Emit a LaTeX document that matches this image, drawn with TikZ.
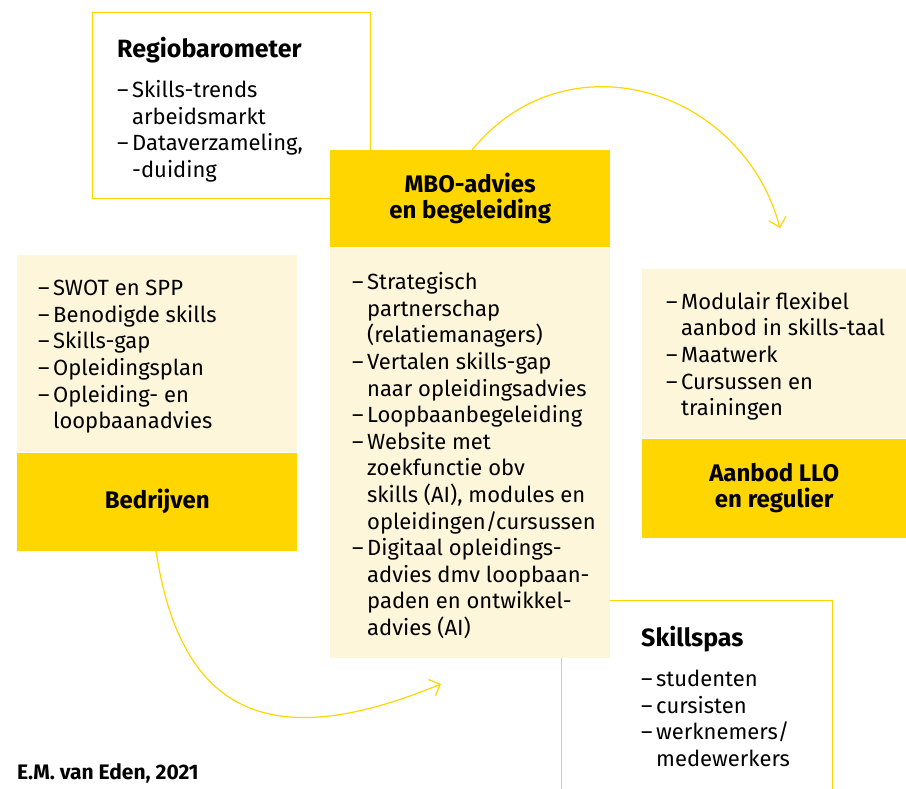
\documentclass[tikz,border=0pt]{standalone}
\usepackage{fontspec}
\setmainfont{Fira Sans}
\usepackage{xcolor}
\usepackage{tikz}
\usetikzlibrary{arrows.meta}
\usetikzlibrary{positioning}

\definecolor{geel}{RGB}{255,214,0}
\definecolor{creme}{RGB}{253,246,218}

\newcommand{\punt}{\makebox[15pt][l]{--}}
\newcommand{\verder}{\hspace*{15pt}}
\newcommand{\kopje}[1]{{\fontsize{25}{26}\selectfont\bfseries #1}}

\begin{document}
\begin{tikzpicture}[x=1pt,y=-1pt,
  >={Straight Barb[length=9pt,width=18pt]},
  vlak/.style={rectangle,inner sep=0pt,anchor=north west},
  kader/.style={vlak,draw=geel,line width=1.3pt,fill=white},
  blok/.style={vlak,fill=creme,minimum width=280pt},
  kop/.style={rectangle,inner sep=0pt,fill=geel,align=center,
    font=\fontsize{24}{26}\selectfont\bfseries},
  lijst/.style={inner sep=0pt,align=left,font=\fontsize{22}{26.6}\selectfont},
  boog/.style={->,draw=geel,line width=1.2pt}]
\useasboundingbox (0,0) rectangle (906,789);

% omkaderde blokken
\node at (92,12) (regio) [kader,minimum width=278pt,minimum height=186pt] {};
\node (regiotekst) [lijst,below right=25pt and 25pt of regio.north west]
  {\kopje{Regiobarometer}\\[13.4pt]
   \punt Skills-trends\\ \verder arbeidsmarkt\\
   \punt Dataverzameling,\\ \verder -duiding};

\node at (561,600) (skillspas) [kader,minimum width=271pt,minimum height=200pt] {};
\node (skillspastekst) [lijst,below right=26pt and 80pt of skillspas.north west]
  {\kopje{Skillspas}\\[13.4pt]
   \punt studenten\\ \punt cursisten\\
   \punt werknemers/\\ \verder medewerkers};

% MBO in het midden
\node at (330,150) (mbokop) [kop,anchor=north west,minimum width=280pt,minimum height=97pt]
  {MBO-advies\\en begeleiding};
\node (mboblok) [blok,below=0pt of mbokop,anchor=north,minimum height=410pt] {};
\node (mbotekst) [lijst,below right=25pt and 22pt of mboblok.north west]
  {\punt Strategisch\\ \verder partnerschap\\ \verder (relatiemanagers)\\
   \punt Vertalen skills-gap\\ \verder naar opleidingsadvies\\
   \punt Loopbaanbegeleiding\\
   \punt Website met\\ \verder zoekfunctie obv\\
   \verder skills (AI), modules en\\ \verder opleidingen/cursussen\\
   \punt Digitaal opleidings-\\ \verder advies dmv loopbaan-\\
   \verder paden en ontwikkel-\\ \verder advies (AI)};

% bedrijven
\node at (17,255) (bedrblok) [blok,minimum height=197pt] {};
\node (bedrtekst) [lijst,below right=25pt and 21pt of bedrblok.north west]
  {\punt SWOT en SPP\\ \punt Benodigde skills\\ \punt Skills-gap\\
   \punt Opleidingsplan\\ \punt Opleiding- en\\ \verder loopbaanadvies};
\node (bedrkop) [kop,below=0pt of bedrblok,minimum width=280pt,minimum height=98pt]
  {Bedrijven};

% aanbod
\node at (642,269) (aanbodblok) [blok,minimum width=264pt,minimum height=169pt] {};
\node (aanbodtekst) [lijst,below right=23pt and 24pt of aanbodblok.north west]
  {\punt Modulair flexibel\\ \verder aanbod in skills-taal\\
   \punt Maatwerk\\ \punt Cursussen en\\ \verder trainingen};
\node (aanbodkop) [kop,below=0pt of aanbodblok,minimum width=264pt,minimum height=99pt]
  {Aanbod LLO\\en regulier};

% bogen
\coordinate (boogeind) at (780,228);
\coordinate (boogstart) at ([xshift=139pt]bedrkop.south west);
\coordinate (pijlpunt) at (441,684);
\draw[boog] ([xshift=142pt]mbokop.north west) .. controls (566.6,34) and (742.4,87.9) .. (boogeind);
\draw[boog] (boogstart) .. controls (181.5,719.3) and (275.4,752.4) .. (pijlpunt);

\node at (17,779) (bron) [anchor=base west,inner sep=0pt,font=\fontsize{21}{24}\selectfont\bfseries]
  {E.M. van Eden, 2021};
\end{tikzpicture}
\end{document}
